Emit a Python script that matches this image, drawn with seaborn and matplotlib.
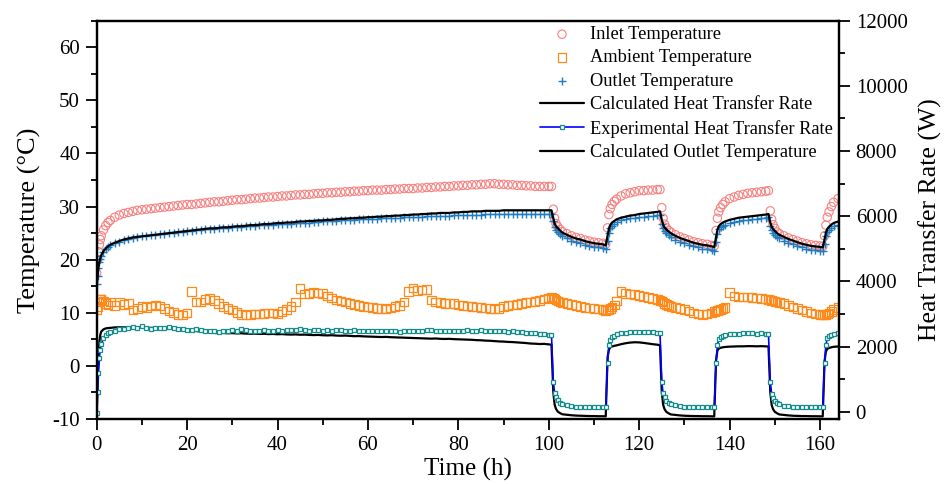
import matplotlib
matplotlib.use("Agg")
import matplotlib.pyplot as plt
from matplotlib.ticker import AutoMinorLocator
import pandas as pd
import seaborn as sns

# time axis (h): dense start, hourly steady run, then the 12 h on/off cycles
hours = [0, 0.2, 0.4, 0.6, 0.8, 1.0, 1.5, 2, 2.5, 3,
         4, 5, 6, 7, 8, 9, 10, 11, 12, 13,
         14, 15, 16, 17, 18, 19, 20, 21, 22, 23,
         24, 25, 26, 27, 28, 29, 30, 31, 32, 33,
         34, 35, 36, 37, 38, 39, 40, 41, 42, 43,
         44, 45, 46, 47, 48, 49, 50, 51, 52, 53,
         54, 55, 56, 57, 58, 59, 60, 61, 62, 63,
         64, 65, 66, 67, 68, 69, 70, 71, 72, 73,
         74, 75, 76, 77, 78, 79, 80, 81, 82, 83,
         84, 85, 86, 87, 88, 89, 90, 91, 92, 93,
         94, 95, 96, 97, 98, 99, 100,
         100.6,
         101.0, 101.3, 101.6, 102.0, 102.5, 103, 104, 105, 106, 107, 108, 109, 110, 111, 112, 112.6,
         113.0, 113.3, 113.6, 114.0, 114.5, 115, 116, 117, 118, 119, 120, 121, 122, 123, 124, 124.6,
         125.0, 125.3, 125.6, 126.0, 126.5, 127, 128, 129, 130, 131, 132, 133, 134, 135, 136, 136.6,
         137.0, 137.3, 137.6, 138.0, 138.5, 139, 140, 141, 142, 143, 144, 145, 146, 147, 148, 148.6,
         149.0, 149.3, 149.6, 150.0, 150.5, 151, 152, 153, 154, 155, 156, 157, 158, 159, 160, 160.6,
         161.0, 161.3, 161.6, 162.0, 162.5, 163, 164]

inlet_temp = [17.5, 20.0, 21.5, 22.8, 23.8, 24.5, 25.6, 26.4, 27.0, 27.4,
              28.0, 28.4, 28.7, 28.9, 29.1, 29.3, 29.4, 29.5, 29.6, 29.7,
              29.8, 29.9, 30.0, 30.1, 30.2, 30.3, 30.4, 30.4, 30.5, 30.6,
              30.7, 30.8, 30.9, 30.9, 31.0, 31.1, 31.2, 31.3, 31.3, 31.4,
              31.5, 31.6, 31.6, 31.7, 31.8, 31.8, 31.9, 32.0, 32.0, 32.1,
              32.2, 32.2, 32.3, 32.3, 32.4, 32.5, 32.5, 32.6, 32.6, 32.7,
              32.7, 32.8, 32.8, 32.9, 32.9, 33.0, 33.0, 33.1, 33.1, 33.1,
              33.2, 33.2, 33.3, 33.3, 33.4, 33.4, 33.4, 33.5, 33.5, 33.6,
              33.6, 33.7, 33.7, 33.8, 33.8, 33.9, 33.9, 34.0, 34.0, 34.1,
              34.1, 34.2, 34.2, 34.3, 34.3, 34.2, 34.2, 34.1, 34.1, 34.0,
              34.0, 33.9, 33.9, 33.8, 33.8, 33.8, 33.8,
              33.8,
              29.5, 27.8, 26.8, 26.2, 25.7, 25.3, 24.9, 24.5, 24.2, 24.0, 23.7, 23.5, 23.3, 23.2, 23.1, 22.9,
              26.0, 28.5, 29.6, 30.4, 31.0, 31.4, 32.0, 32.4, 32.6, 32.8, 33.0, 33.0, 33.1, 33.1, 33.2, 33.2,
              29.8, 27.8, 26.7, 26.0, 25.5, 25.2, 24.7, 24.3, 24.0, 23.7, 23.4, 23.2, 23.0, 22.9, 22.7, 22.6,
              25.5, 27.8, 29.0, 29.8, 30.4, 30.9, 31.5, 31.8, 32.1, 32.3, 32.5, 32.6, 32.7, 32.8, 32.9, 33.0,
              29.2, 27.6, 26.6, 25.9, 25.2, 24.9, 24.5, 24.1, 23.8, 23.5, 23.2, 23.0, 22.8, 22.7, 22.6, 22.5,
              24.5, 26.5, 28.0, 29.0, 30.0, 30.8, 31.5]

ambient_temp = [10.5, 11.2, 12.0, 12.5, 12.6, 12.5, 12.2, 11.8, 11.5, 12.0,
                11.4, 12.0, 11.6, 11.8, 10.5, 10.8, 11.2, 11.0, 11.3, 11.5,
                11.3, 10.8, 10.3, 10.1, 9.7, 9.6, 10.0, 14.0, 12.0, 12.0,
                12.5, 12.7, 12.3, 11.8, 11.2, 10.8, 10.5, 10.1, 9.7, 9.6,
                9.7, 9.8, 9.8, 9.9, 10.0, 10.0, 9.8, 10.2, 10.6, 11.2,
                12.0, 14.6, 13.5, 13.6, 13.8, 13.7, 13.6, 13.2, 12.8, 12.4,
                12.2, 12.0, 11.8, 11.6, 11.4, 11.2, 11.1, 11.0, 10.8, 10.8,
                10.7, 10.9, 11.2, 11.4, 12.0, 14.0, 14.7, 14.2, 14.3, 14.4,
                12.4, 12.0, 11.9, 11.8, 11.7, 11.7, 11.5, 11.4, 11.3, 11.2,
                11.1, 11.0, 10.9, 10.8, 10.7, 10.8, 11.2, 11.4, 11.5, 11.6,
                11.8, 11.9, 12.0, 12.1, 12.3, 12.6, 12.8,
                13.0,
                12.8, 12.6, 12.4, 12.2, 12.0, 11.9, 11.8, 11.6, 11.4, 11.2, 11.0, 10.9, 10.8, 10.7, 10.6, 10.4,
                10.5, 10.6, 10.8, 11.1, 11.5, 12.2, 14.0, 13.6, 13.5, 13.4, 13.3, 13.1, 12.9, 12.7, 12.5, 12.3,
                12.2, 12.0, 11.8, 11.6, 11.4, 11.2, 11.0, 10.8, 10.6, 10.3, 10.0, 9.8, 9.7, 9.8, 10.0, 10.2,
                10.3, 10.4, 10.5, 10.6, 10.8, 11.0, 13.8, 13.2, 13.0, 13.0, 13.0, 12.9, 12.8, 12.7, 12.6, 12.5,
                12.4, 12.3, 12.2, 12.1, 12.0, 11.9, 11.7, 11.4, 11.1, 10.8, 10.5, 10.2, 10.0, 9.8, 9.7, 9.6,
                9.6, 9.7, 9.8, 10.0, 10.2, 10.6, 11.0]

outlet_temp = [15.5, 17.0, 18.5, 19.5, 20.2, 20.7, 21.5, 22.0, 22.4, 22.7,
               23.1, 23.4, 23.7, 23.9, 24.1, 24.3, 24.4, 24.5, 24.6, 24.7,
               24.8, 24.9, 25.0, 25.1, 25.2, 25.3, 25.4, 25.4, 25.5, 25.6,
               25.7, 25.8, 25.8, 25.9, 26.0, 26.0, 26.1, 26.2, 26.2, 26.3,
               26.4, 26.4, 26.5, 26.5, 26.6, 26.6, 26.7, 26.7, 26.8, 26.8,
               26.9, 26.9, 27.0, 27.0, 27.1, 27.1, 27.2, 27.2, 27.3, 27.3,
               27.4, 27.4, 27.5, 27.5, 27.6, 27.6, 27.7, 27.7, 27.7, 27.8,
               27.8, 27.9, 27.9, 27.9, 28.0, 28.0, 28.1, 28.1, 28.1, 28.2,
               28.2, 28.2, 28.3, 28.3, 28.3, 28.4, 28.4, 28.4, 28.5, 28.5,
               28.5, 28.5, 28.6, 28.6, 28.6, 28.6, 28.6, 28.6, 28.6, 28.6,
               28.6, 28.6, 28.6, 28.6, 28.6, 28.6, 28.6,
               28.6,
               27.2, 26.2, 25.6, 25.2, 24.8, 24.4, 24.0, 23.6, 23.3, 23.1, 22.8, 22.6, 22.4, 22.3, 22.2, 22.0,
               23.5, 25.0, 25.9, 26.4, 26.8, 27.1, 27.4, 27.6, 27.8, 27.9, 28.0, 28.1, 28.2, 28.3, 28.4, 28.5,
               26.8, 25.9, 25.4, 25.0, 24.6, 24.3, 23.8, 23.4, 23.1, 22.8, 22.5, 22.3, 22.1, 22.0, 21.8, 21.7,
               23.4, 24.9, 25.7, 26.1, 26.4, 26.6, 26.9, 27.1, 27.3, 27.4, 27.5, 27.6, 27.7, 27.8, 27.9, 28.0,
               26.3, 25.5, 25.1, 24.7, 24.3, 24.0, 23.6, 23.2, 22.9, 22.6, 22.3, 22.1, 21.9, 21.8, 21.7, 21.6,
               23.0, 24.4, 25.2, 25.6, 26.0, 26.3, 26.6]

calc_outlet_temp = [15.0, 17.0, 18.6, 19.6, 20.3, 20.8, 21.6, 22.1, 22.5, 22.8,
                    23.2, 23.5, 23.8, 24.0, 24.2, 24.3, 24.4, 24.5, 24.6, 24.7,
                    24.8, 24.9, 25.0, 25.1, 25.2, 25.3, 25.4, 25.5, 25.6, 25.7,
                    25.8, 25.9, 25.9, 26.0, 26.1, 26.1, 26.2, 26.3, 26.3, 26.4,
                    26.5, 26.5, 26.6, 26.7, 26.7, 26.8, 26.9, 26.9, 27.0, 27.0,
                    27.1, 27.2, 27.2, 27.3, 27.3, 27.4, 27.4, 27.5, 27.5, 27.6,
                    27.7, 27.7, 27.8, 27.8, 27.9, 27.9, 28.0, 28.0, 28.1, 28.1,
                    28.2, 28.2, 28.3, 28.3, 28.4, 28.4, 28.5, 28.5, 28.6, 28.6,
                    28.7, 28.7, 28.8, 28.8, 28.8, 28.9, 28.9, 29.0, 29.0, 29.1,
                    29.1, 29.1, 29.2, 29.2, 29.2, 29.2, 29.3, 29.3, 29.3, 29.3,
                    29.3, 29.3, 29.3, 29.3, 29.3, 29.3, 29.3,
                    29.3,
                    27.8, 26.8, 26.3, 25.9, 25.5, 25.1, 24.7, 24.3, 24.0, 23.8, 23.5, 23.3, 23.1, 23.0, 22.9, 22.7,
                    24.5, 25.8, 26.5, 27.0, 27.3, 27.6, 27.9, 28.1, 28.3, 28.4, 28.6, 28.7, 28.8, 28.9, 29.0, 29.1,
                    27.5, 26.6, 26.1, 25.7, 25.3, 25.0, 24.5, 24.1, 23.8, 23.5, 23.2, 23.0, 22.8, 22.7, 22.5, 22.4,
                    24.2, 25.6, 26.3, 26.7, 27.0, 27.2, 27.5, 27.7, 27.9, 28.0, 28.1, 28.2, 28.3, 28.4, 28.5, 28.6,
                    27.0, 26.2, 25.8, 25.4, 25.0, 24.7, 24.3, 23.9, 23.6, 23.3, 23.0, 22.8, 22.6, 22.5, 22.4, 22.3,
                    23.8, 25.0, 25.8, 26.2, 26.6, 26.9, 27.2]

# heat transfer rates (W), right axis
exp_heat_rate = [-40, 600, 1180, 1660, 1910, 2070, 2270, 2360, 2410, 2450,
                 2490, 2530, 2545, 2560, 2590, 2575, 2620, 2570, 2555, 2575,
                 2560, 2580, 2590, 2560, 2545, 2530, 2515, 2500, 2530, 2500,
                 2480, 2495, 2470, 2460, 2485, 2470, 2500, 2480, 2530, 2500,
                 2485, 2475, 2490, 2505, 2480, 2495, 2510, 2490, 2500, 2525,
                 2505, 2540, 2510, 2495, 2515, 2500, 2490, 2505, 2485, 2500,
                 2515, 2495, 2480, 2500, 2490, 2470, 2485, 2475, 2495, 2480,
                 2465, 2490, 2470, 2460, 2480, 2470, 2470, 2490, 2475, 2500,
                 2520, 2485, 2470, 2490, 2480, 2495, 2475, 2490, 2500, 2480,
                 2495, 2505, 2485, 2470, 2480, 2465, 2475, 2455, 2465, 2445,
                 2450, 2430, 2420, 2405, 2385, 2390, 2370,
                 2370,
                 900, 575, 445, 350, 285, 235, 200, 175, 160, 150, 145, 140, 145, 140, 140, 135,
                 1500, 2040, 2200, 2290, 2340, 2380, 2410, 2430, 2445, 2455, 2460, 2455, 2450, 2440, 2430, 2410,
                 900, 570, 440, 345, 280, 230, 195, 170, 155, 150, 140, 145, 140, 135, 140, 135,
                 1500, 2050, 2230, 2290, 2330, 2360, 2380, 2395, 2400, 2410, 2405, 2410, 2400, 2405, 2400, 2390,
                 900, 560, 430, 340, 275, 225, 190, 170, 155, 145, 140, 145, 140, 135, 140, 135,
                 1500, 2050, 2250, 2330, 2370, 2400, 2420]

calc_heat_rate = [-150, 930, 1750, 2150, 2360, 2460, 2530, 2560, 2570, 2575,
                  2590, 2595, 2590, 2595, 2590, 2585, 2590, 2580, 2575, 2575,
                  2575, 2570, 2560, 2550, 2540, 2525, 2510, 2495, 2480, 2465,
                  2450, 2435, 2420, 2415, 2420, 2410, 2415, 2405, 2410, 2400,
                  2395, 2400, 2390, 2395, 2385, 2390, 2380, 2385, 2375, 2370,
                  2375, 2365, 2370, 2360, 2355, 2360, 2350, 2345, 2350, 2340,
                  2335, 2340, 2330, 2320, 2325, 2315, 2310, 2305, 2300, 2295,
                  2300, 2290, 2285, 2280, 2275, 2270, 2265, 2260, 2255, 2250,
                  2245, 2250, 2240, 2235, 2240, 2230, 2225, 2220, 2215, 2210,
                  2200, 2195, 2185, 2180, 2170, 2160, 2155, 2145, 2140, 2130,
                  2120, 2110, 2095, 2090, 2080, 2085, 2070,
                  2060,
                  610, 220, 90, 5, -40, -75, -90, -105, -115, -120, -125, -130, -130, -135, -135, -140,
                  1660, 1910, 1975, 2005, 2025, 2040, 2075, 2105, 2125, 2135, 2130, 2115, 2095, 2075, 2060, 2045,
                  600, 215, 85, 0, -45, -80, -95, -110, -120, -125, -130, -130, -135, -135, -140, -140,
                  1580, 1880, 1940, 1965, 1980, 1990, 2000, 2005, 2010, 2010, 2015, 2015, 2010, 2015, 2010, 2005,
                  600, 215, 85, 0, -45, -80, -95, -110, -120, -125, -130, -130, -135, -135, -140, -140,
                  1550, 1850, 1930, 1960, 1980, 1995, 2005]

df = pd.DataFrame({
    "hours": hours,
    "inlet": inlet_temp,
    "ambient": ambient_temp,
    "outlet": outlet_temp,
    "calc_outlet": calc_outlet_temp,
    "exp_heat": exp_heat_rate,
    "calc_heat": calc_heat_rate,
})

sns.set_style("ticks")
plt.rcParams["font.family"] = ["Liberation Serif", "DejaVu Serif"]
plt.rcParams["axes.unicode_minus"] = False
for key in ("text.color", "axes.labelcolor", "xtick.color", "ytick.color", "axes.edgecolor"):
    plt.rcParams[key] = "black"

fig = plt.figure(figsize=(9.46, 4.84), dpi=100)
ax = fig.add_axes([0.1022, 0.1343, 0.7847, 0.8229])
ax2 = ax.twinx()

pink = "#f88080"
orange = "#ff8a1c"
blue = "#1f7cc0"
teal = "#138c8c"

sns.scatterplot(data=df, x="hours", y="inlet", ax=ax, marker="o", s=36,
                color=pink, facecolors="none", edgecolor=pink, linewidth=0.8, legend=False)
h_inlet = ax.collections[-1]
sns.scatterplot(data=df, x="hours", y="ambient", ax=ax, marker="s", s=38,
                color=orange, facecolors="none", edgecolor=orange, linewidth=0.9, legend=False)
h_amb = ax.collections[-1]
sns.scatterplot(data=df, x="hours", y="outlet", ax=ax, marker="+", s=40,
                color=blue, linewidth=1.0, legend=False)
h_out = ax.collections[-1]
sns.lineplot(data=df, x="hours", y="calc_outlet", ax=ax, color="black", linewidth=1.6,
             estimator=None, sort=False, legend=False)
h_cout = ax.lines[-1]

sns.lineplot(data=df, x="hours", y="calc_heat", ax=ax2, color="black", linewidth=1.6,
             estimator=None, sort=False, legend=False)
h_cheat = ax2.lines[-1]
sns.lineplot(data=df, x="hours", y="exp_heat", ax=ax2, color="#0000ff", linewidth=1.2,
             marker="s", markersize=3.4, markerfacecolor="white", markeredgecolor=teal,
             markeredgewidth=0.9, estimator=None, sort=False, legend=False)
h_eheat = ax2.lines[-1]

ax.set_xlim(0, 164.2)
ax.set_ylim(-10, 65)
ax.set_xticks(range(0, 161, 20))
ax.set_yticks(range(-10, 61, 10))
ax2.set_ylim(-220, 12000)
ax2.set_yticks(range(0, 12001, 2000))
for a in (ax, ax2):
    a.xaxis.set_minor_locator(AutoMinorLocator(2))
    a.yaxis.set_minor_locator(AutoMinorLocator(2))
    a.tick_params(which="major", direction="out", length=8, width=1.3, labelsize=15, pad=4)
    a.tick_params(which="minor", direction="out", length=4.5, width=1.3)
    for sp in a.spines.values():
        sp.set_linewidth(1.6)
        sp.set_visible(True)

ax.set_xlabel("Time (h)", fontsize=18, labelpad=2)
ax.set_ylabel("Temperature (°C)", fontsize=19, labelpad=8)
ax2.set_ylabel("Heat Transfer Rate (W)", fontsize=18.5, labelpad=8)

handles = [h_inlet, h_amb, h_out, h_cheat, h_eheat, h_cout]
labels = ["Inlet Temperature", "Ambient Temperature", "Outlet Temperature",
          "Calculated Heat Transfer Rate", "Experimental Heat Transfer Rate",
          "Calculated Outlet Temperature"]
ax2.legend(handles, labels, loc="upper left", bbox_to_anchor=(540 / 946, 1 - 26 / 484),
           bbox_transform=fig.transFigure, frameon=False, fontsize=13.2,
           handlelength=2.4, handletextpad=0.3, labelspacing=0.35, borderpad=0,
           borderaxespad=0, scatterpoints=1, numpoints=1)

fig.savefig("out.png", dpi=100)
